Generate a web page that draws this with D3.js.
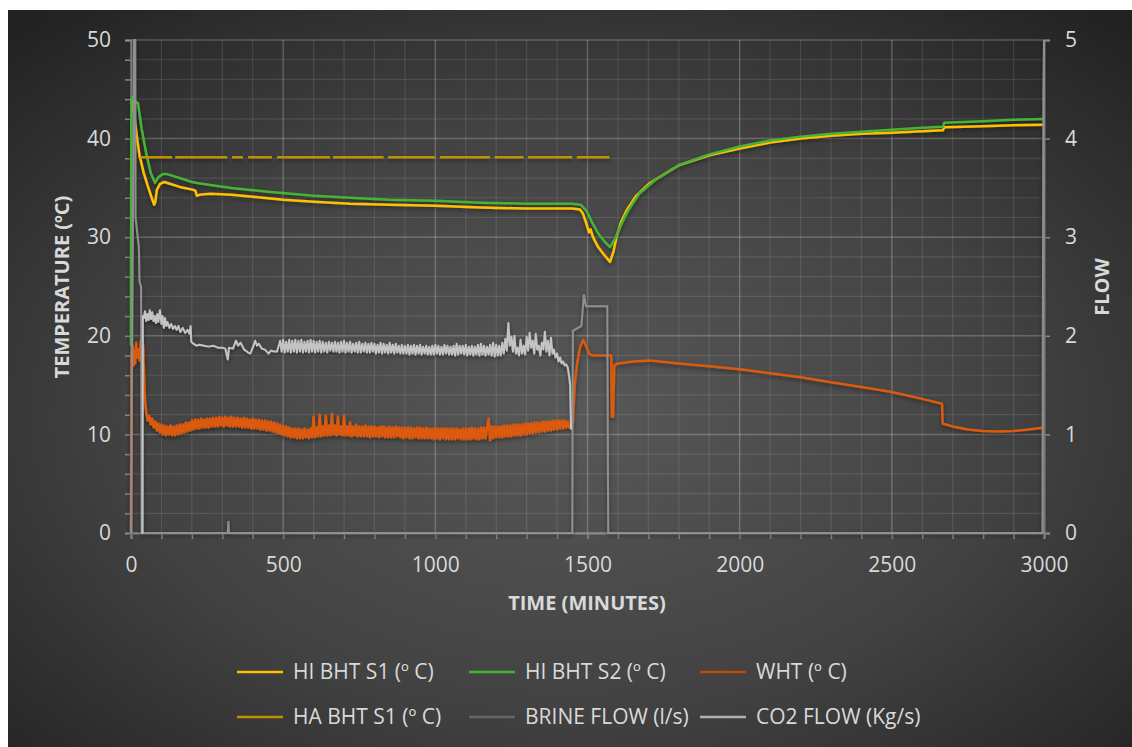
<!DOCTYPE html>
<html><head><meta charset="utf-8">
<script src="https://cdn.jsdelivr.net/npm/d3@7"></script>
<style>
html,body{margin:0;padding:0;background:#fff;}
text{font-family:"Open Sans",sans-serif;}
</style></head>
<body><svg id="chart" width="1132" height="747"></svg>
<script>
// ---------------- DATA ----------------
const xTicks = [0,500,1000,1500,2000,2500,3000];
const yTicksLeft = [0,10,20,30,40,50];
const yTicksRight = [0,1,2,3,4,5];
const seriesNames = ["HI BHT S1 (º C)","HI BHT S2 (º C)","WHT (º C)","HA BHT S1 (º C)","BRINE FLOW (l/s)","CO2 FLOW (Kg/s)"];

const hiBhtS1 = [[0,43.5],[3,44],[10,42.5],[20,40],[28,38.3],[32,37.8],[42,36.5],[55,35.2],[68,34],[76,33.3],[80,33.6],[85,34.8],[95,35.4],[110,35.6],[130,35.4],[160,35.1],[190,34.9],[205,34.8],[212,34.7],[216,34.2],[225,34.3],[260,34.4],[330,34.3],[400,34.1],[500,33.8],[600,33.6],[720,33.4],[850,33.3],[1000,33.2],[1150,33.0],[1300,32.9],[1400,32.9],[1450,32.9],[1475,32.8],[1485,32.4],[1495,31.5],[1505,30.5],[1510,30.8],[1518,30.0],[1535,29.0],[1555,28.2],[1574,27.5],[1585,28.5],[1595,30.0],[1610,31.5],[1630,32.8],[1660,34.2],[1705,35.5],[1800,37.3],[1900,38.3],[2000,39.0],[2100,39.6],[2200,40.0],[2300,40.3],[2400,40.5],[2500,40.6],[2600,40.75],[2668,40.85],[2672,41.15],[2800,41.25],[2900,41.35],[3000,41.4]];

const hiBhtS2 = [[0,19],[1,44],[5,44.2],[12,43.8],[23,43.6],[35,41],[50,38.5],[65,36.5],[79,35.5],[90,36.1],[105,36.4],[118,36.4],[140,36.2],[170,35.9],[200,35.6],[217,35.5],[260,35.3],[330,35.0],[450,34.6],[600,34.2],[720,34.0],[850,33.8],[1000,33.7],[1150,33.5],[1300,33.4],[1450,33.4],[1478,33.3],[1490,32.9],[1500,32.5],[1515,31.5],[1535,30.4],[1555,29.6],[1574,29.0],[1590,29.8],[1607,31],[1625,32.2],[1640,33],[1670,34.4],[1722,35.8],[1800,37.3],[1900,38.4],[2000,39.2],[2100,39.8],[2200,40.2],[2300,40.5],[2400,40.7],[2500,40.9],[2600,41.1],[2668,41.2],[2672,41.6],[2800,41.75],[2900,41.9],[3000,42.0]];

const whtStart = [[0,0],[2,17.5],[5,19],[8,17],[11,18.5],[14,17.2],[17,19.3],[20,17.8],[24,18.6],[28,17.5],[32,19.5],[36,18],[40,19],[43,16],[46,13.5]];
// noisy part read every 5 minutes from t=50 to t=1440
const whtNoisy = [
12.3,11.4,11.9,11.0,11.6,10.7,11.3,10.4,11.1,10.2,
11.0,10.0,10.9,9.9,10.8,10.0,10.9,9.9,10.8,9.9,
10.9,10.0,11.0,10.1,11.0,10.2,11.2,10.3,11.2,10.4,
11.4,10.5,11.5,10.6,11.5,10.6,11.6,10.7,11.5,10.7,
11.6,10.7,11.6,10.8,11.7,10.8,11.7,10.8,11.8,10.9,
11.7,10.8,11.8,10.9,11.7,10.8,11.8,10.8,11.7,10.8,
11.7,10.8,11.6,10.7,11.7,10.7,11.6,10.7,11.5,10.6,
11.6,10.6,11.5,10.6,11.5,10.5,11.4,10.5,11.4,10.4,
11.3,10.4,11.3,10.3,11.2,10.2,11.1,10.1,11.0,10.0,
10.9,9.9,10.8,9.8,10.7,9.7,10.6,9.7,10.6,9.6,
10.6,9.6,10.5,9.6,10.6,9.7,10.5,9.6,10.6,9.7,
11.8,9.7,10.7,9.8,12.0,9.8,10.8,9.9,11.9,9.9,
10.9,9.9,12.1,10.0,10.9,9.9,11.8,10.0,10.8,9.9,
11.9,9.9,10.8,9.9,11.2,9.8,10.8,9.9,11.0,9.8,
10.8,9.8,10.8,9.8,10.9,9.8,10.8,9.7,10.8,9.8,
10.8,9.8,10.7,9.7,10.8,9.8,10.8,9.7,10.7,9.7,
10.8,9.7,10.7,9.7,10.8,9.8,10.7,9.7,10.7,9.6,
10.7,9.7,10.7,9.6,10.7,9.6,10.6,9.7,10.7,9.6,
10.7,9.6,10.6,9.6,10.7,9.6,10.6,9.6,10.6,9.5,
10.7,9.6,10.6,9.5,10.6,9.6,10.6,9.5,10.6,9.5,
10.6,9.5,10.6,9.5,10.6,9.6,10.5,9.5,10.6,9.5,
10.6,9.5,10.6,9.5,10.7,9.6,10.6,9.5,10.6,9.5,
10.7,9.6,10.7,9.6,10.7,11.6,9.4,10.8,9.6,10.8,
9.7,10.8,9.7,10.8,9.7,10.9,9.8,10.9,9.8,10.9,
9.8,11.0,9.9,11.0,9.9,11.0,9.9,11.0,10.0,11.1,
10.0,11.1,10.1,11.1,10.1,11.2,10.2,11.2,10.2,11.2,
10.3,11.3,10.3,11.3,10.4,11.3,10.4,11.4,10.5,11.4,
10.5,11.4,10.6,11.4,10.6,11.4,10.7,11.3,10.7];
const whtEnd = [[1448,10.8],[1452,11.2],[1458,15],[1465,17],[1475,18.8],[1486,19.6],[1495,19],[1505,18.2],[1515,18],[1540,18],[1560,18],[1578,18],[1580,11.8],[1584,11.8],[1588,17],[1600,17.2],[1650,17.4],[1705,17.5],[1800,17.2],[1900,16.9],[2000,16.6],[2100,16.2],[2200,15.8],[2300,15.3],[2400,14.8],[2500,14.3],[2600,13.6],[2665,13.1],[2667,11.1],[2700,10.8],[2750,10.5],[2800,10.35],[2850,10.3],[2900,10.35],[2950,10.5],[3000,10.7]];

const haBhtS1 = [[30,38.1],[135,38.1],[135,null],[145,38.1],[316,38.1],[316,null],[332,38.1],[368,38.1],[368,null],[385,38.1],[463,38.1],[463,null],[480,38.1],[654,38.1],[654,null],[664,38.1],[830,38.1],[830,null],[845,38.1],[1000,38.1],[1000,null],[1015,38.1],[1180,38.1],[1180,null],[1195,38.1],[1290,38.1],[1290,null],[1305,38.1],[1450,38.1],[1450,null],[1465,38.1],[1572,38.1]];

const brineFlow = [[0,0],[10,5],[14,5],[15,3.2],[22,3.0],[26,2.9],[28,2.55],[33,2.5],[35,0],[318,0],[320,0.12],[322,0],[1450,0],[1452,2.05],[1480,2.1],[1488,2.42],[1495,2.3],[1565,2.3],[1568,0],[2995,0],[2998,4.46],[3000,5]];

const co2Start = [[35,0],[38,0],[39,2.2],[42,2.18],[46,2.25],[50,2.15],[54,2.22],[58,2.16],[62,2.26],[66,2.17],[70,2.24],[74,2.15],[78,2.2],[82,2.13],[86,2.22],[90,2.14],[95,2.26],[100,2.12],[104,2.2],[108,2.08],[112,2.18],[116,2.1],[120,2.14],[126,2.08],[132,2.12],[138,2.07],[144,2.1],[150,2.06],[156,2.1],[162,2.04],[170,2.08],[178,2.03],[186,2.06],[192,2.02],[196,2.1],[198,1.94],[205,1.92],[215,1.9],[225,1.91],[240,1.9],[255,1.89],[270,1.9],[285,1.88],[300,1.88],[310,1.87],[318,1.76],[322,1.88],[335,1.87],[345,1.95],[352,1.9],[360,1.93],[372,1.86],[385,1.83],[392,1.82],[400,1.88],[408,1.95],[414,1.9],[420,1.92],[430,1.87],[440,1.86],[452,1.82],[460,1.85],[470,1.84],[480,1.84]];
// noisy part read every 5 minutes from t=490 to t=1440
const co2Noisy = [
1.95,1.84,1.96,1.83,1.94,1.84,1.96,1.83,1.95,1.84,
1.96,1.83,1.95,1.84,1.96,1.83,1.94,1.84,1.95,1.83,
1.96,1.84,1.95,1.83,1.94,1.84,1.95,1.83,1.94,1.84,
1.93,1.83,1.94,1.85,1.93,1.84,1.94,1.84,1.93,1.83,
1.94,1.84,1.95,1.83,1.93,1.84,1.94,1.83,1.92,1.84,
1.93,1.83,1.94,1.83,1.92,1.84,1.93,1.83,1.92,1.83,
1.93,1.84,1.92,1.82,1.91,1.83,1.93,1.82,1.92,1.83,
1.91,1.82,1.93,1.83,1.91,1.82,1.92,1.83,1.90,1.82,
1.91,1.82,1.90,1.82,1.91,1.81,1.90,1.82,1.91,1.81,
1.90,1.82,1.91,1.81,1.89,1.82,1.90,1.81,1.89,1.81,
1.90,1.81,1.91,1.82,1.90,1.81,1.89,1.81,1.91,1.82,
1.90,1.81,1.89,1.81,1.90,1.80,1.92,1.81,1.90,1.82,
1.90,1.81,1.91,1.80,1.89,1.81,1.90,1.80,1.89,1.81,
1.91,1.80,1.92,1.81,1.90,1.80,1.89,1.81,1.91,1.80,
1.93,1.79,1.91,1.80,1.90,1.80,1.93,1.82,1.97,1.85,
2.13,1.90,1.99,1.84,2.00,1.82,1.88,1.80,1.96,1.82,
1.90,1.81,1.99,1.85,2.03,1.88,1.95,1.82,2.02,1.86,
1.90,1.80,1.93,1.86,2.04,1.84,1.95,1.80,1.98,1.82,
1.86,1.78,1.82,1.74,1.78,1.72,1.74,1.70,1.71,1.68,
1.58];
const co2End = [[1443,1.5],[1446,1.05]];

// ---------------- BUILD ----------------
const whtSeries = whtStart.concat(whtNoisy.map((v,i)=>[50+i*5,v]), whtEnd);
const co2Series = co2Start.concat(co2Noisy.map((v,i)=>[490+i*5,v]), co2End);

const svg = d3.select("#chart");
const W=1132,H=747;
const defs = svg.append("defs");
const rg = defs.append("radialGradient").attr("id","bg").attr("cx","50%").attr("cy","55%").attr("r","72%");
rg.append("stop").attr("offset","0%").attr("stop-color","#585858");
rg.append("stop").attr("offset","55%").attr("stop-color","#424242");
rg.append("stop").attr("offset","100%").attr("stop-color","#222222");
const sh = defs.append("filter").attr("id","shadow").attr("x","-5%").attr("y","-5%").attr("width","110%").attr("height","120%");
sh.append("feDropShadow").attr("dx",0).attr("dy",2).attr("stdDeviation",2).attr("flood-color","#000").attr("flood-opacity",0.45);

svg.append("rect").attr("x",8).attr("y",10).attr("width",W-8).attr("height",H-10).attr("fill","url(#bg)");

const x = d3.scaleLinear().domain([0,3000]).range([131,1044]);
const y = d3.scaleLinear().domain([0,50]).range([533,40]);
const y2 = d3.scaleLinear().domain([0,5]).range([533,40]);

// grid
const grid = svg.append("g");
grid.selectAll(".hmin").data(d3.range(0,51,2)).join("line")
  .attr("x1",x(0)).attr("x2",x(3000)).attr("y1",d=>y(d)).attr("y2",d=>y(d))
  .attr("stroke", d=> d%10===0 ? "rgba(255,255,255,0.22)" : "rgba(255,255,255,0.10)")
  .attr("stroke-width", d=> d%10===0 ? 1.5 : 1.2);
grid.selectAll(".vmin").data(d3.range(0,3001,100)).join("line")
  .attr("y1",y(0)).attr("y2",y(50)).attr("x1",d=>x(d)).attr("x2",d=>x(d))
  .attr("stroke", d=> d%500===0 ? "rgba(255,255,255,0.22)" : "rgba(255,255,255,0.10)")
  .attr("stroke-width", d=> d%500===0 ? 1.5 : 1.2);

// axes
const axColor = "#8a8a8a", txtColor = "#d9d9d9";
function styleAxis(g){
  g.select(".domain").attr("stroke",axColor).attr("stroke-width",2);
  g.selectAll(".tick line").attr("stroke",axColor).attr("stroke-width",1.5);
  g.selectAll(".tick text").attr("fill",txtColor).style("font-size","21px").style("font-family","'Open Sans',sans-serif");
}
const gL = svg.append("g").attr("transform",`translate(${x(0)},0)`)
  .call(d3.axisLeft(y).tickValues(d3.range(0,51,2)).tickFormat(d=> yTicksLeft.includes(d)? d : "").tickSizeOuter(0).tickSize(6).tickPadding(14));
styleAxis(gL);
const gB = svg.append("g").attr("transform",`translate(0,${y(0)})`)
  .call(d3.axisBottom(x).tickValues(d3.range(0,3001,100)).tickFormat(d=> xTicks.includes(d)? d : "").tickSizeOuter(0).tickSize(6).tickPadding(18));
styleAxis(gB);
const gR = svg.append("g").attr("transform",`translate(${x(3000)},0)`)
  .call(d3.axisRight(y2).tickValues(yTicksRight).tickFormat(d3.format("d")).tickSizeOuter(0).tickSize(6).tickPadding(15));
styleAxis(gR);

// lines
const line = d3.line().defined(d=>d[1]!==null).x(d=>x(d[0])).y(d=>y(d[1]));
const line2 = d3.line().defined(d=>d[1]!==null).x(d=>x(d[0])).y(d=>y2(d[1]));
const colors = ["#ffc000","#46b336","#dc5a0e","#bf9000","#8f8f8f","#c4c4c4"];
const plot = svg.append("g").attr("filter","url(#shadow)");
plot.append("path").datum(hiBhtS1).attr("d",line).attr("fill","none").attr("stroke",colors[0]).attr("stroke-width",2.5).attr("stroke-linejoin","round");
plot.append("path").datum(hiBhtS2).attr("d",line).attr("fill","none").attr("stroke",colors[1]).attr("stroke-width",2.5).attr("stroke-linejoin","round");
plot.append("path").datum(whtSeries).attr("d",line).attr("fill","none").attr("stroke",colors[2]).attr("stroke-width",2.5).attr("stroke-linejoin","round");
plot.append("path").datum(haBhtS1).attr("d",line).attr("fill","none").attr("stroke",colors[3]).attr("stroke-width",2.5);
plot.append("path").datum(brineFlow).attr("d",line2).attr("fill","none").attr("stroke",colors[4]).attr("stroke-width",2);
plot.append("path").datum(co2Series).attr("d",line2).attr("fill","none").attr("stroke",colors[5]).attr("stroke-width",2).attr("stroke-linejoin","round");

// axis titles
svg.append("text").attr("transform","translate(69,287) rotate(-90)").attr("text-anchor","middle")
  .attr("fill",txtColor).style("font-size","20px").style("font-weight","bold").text("TEMPERATURE (ºC)");
svg.append("text").attr("transform","translate(1109,287) rotate(-90)").attr("text-anchor","middle")
  .attr("fill",txtColor).style("font-size","20px").style("font-weight","bold").text("FLOW");
svg.append("text").attr("x",587).attr("y",610).attr("text-anchor","middle")
  .attr("fill",txtColor).style("font-size","20px").style("font-weight","bold").text("TIME (MINUTES)");

// legend
const legendColors = ["#ffc000","#46b336","#c0480f","#bf9000","#666666","#b0b0b0"];
const legX = [237,469,700], legY = [672,717];
seriesNames.forEach((n,i)=>{
  const cx = legX[i%3], cy = legY[Math.floor(i/3)];
  const g = svg.append("g");
  g.append("line").attr("x1",cx).attr("x2",cx+46).attr("y1",cy).attr("y2",cy).attr("stroke",legendColors[i]).attr("stroke-width",2.5);
  g.append("text").attr("x",cx+56).attr("y",cy).attr("dy","0.35em").attr("fill",txtColor).style("font-size","21px").text(n);
});
</script></body></html>
